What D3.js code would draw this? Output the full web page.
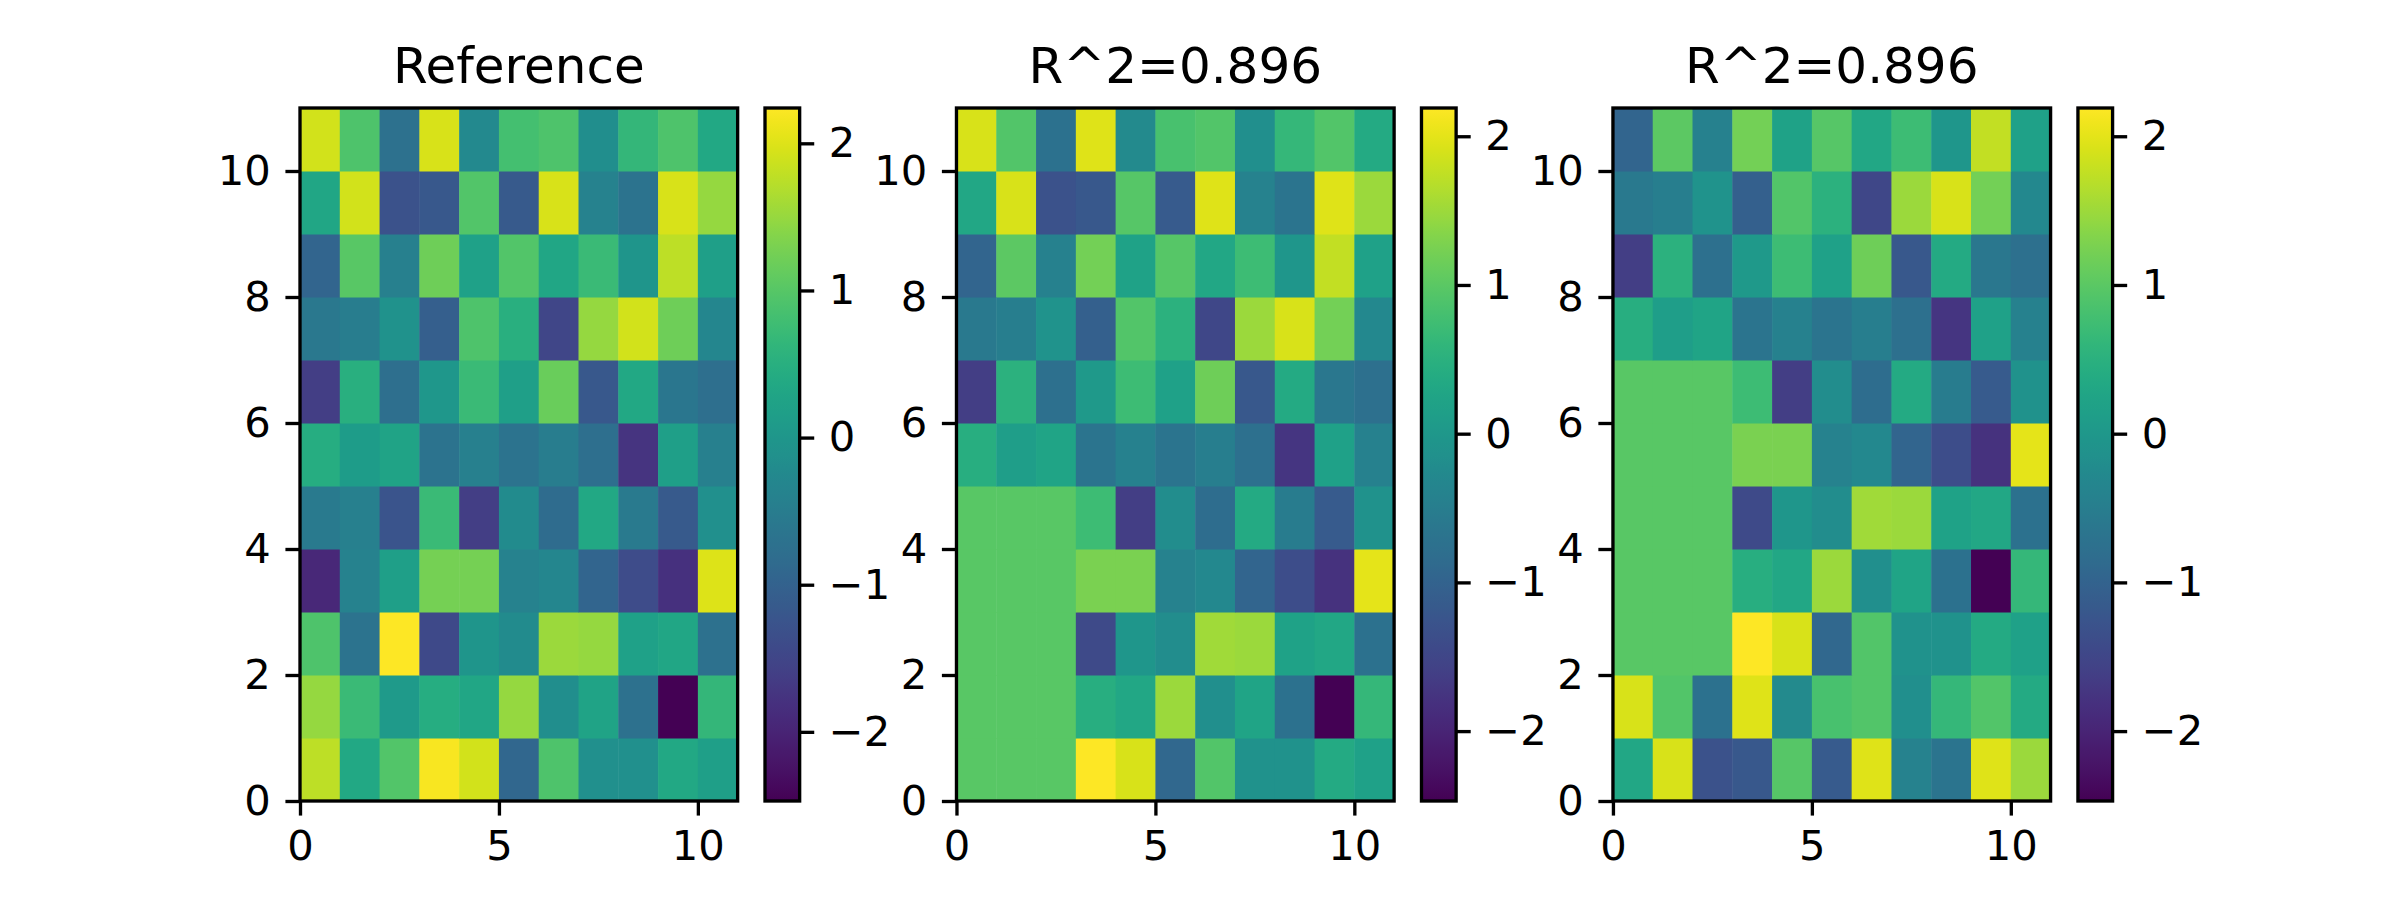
<!DOCTYPE html>
<html>
<head>
<meta charset="utf-8">
<script src="https://cdn.jsdelivr.net/npm/d3@7"></script>
<style>
  html, body { margin: 0; padding: 0; background: #fff; }
  svg { display: block; }
  text { font-family: "DejaVu Sans", sans-serif; fill: #000; }
</style>
</head>
<body>
<svg id="chart" width="2400" height="900"></svg>
<script>
// ---- Data (row 0 = bottom row, y from 0 to 1) ----
const titles = ["Reference", "R^2=0.896", "R^2=0.896"];
const xTicks = [0, 5, 10];
const yTicks = [0, 2, 4, 6, 8, 10];
const cbTicks = [-2, -1, 0, 1, 2];

const referenceGrid = [
  [1.77, 0.36, 0.97, 2.19, 1.91, -0.92, 0.92, -0.12, -0.12, 0.36, 0.17],
  [1.49, 0.73, 0.07, 0.45, 0.31, 1.49, -0.16, 0.26, -0.73, -2.47, 0.64],
  [0.92, -0.68, 2.24, -1.43, -0.02, -0.21, 1.53, 1.49, 0.21, 0.31, -0.73],
  [-1.95, -0.40, 0.17, 1.25, 1.25, -0.40, -0.30, -0.96, -1.39, -1.81, 2.00],
  [-0.54, -0.44, -1.25, 0.73, -1.62, -0.21, -0.82, 0.36, -0.54, -1.15, -0.12],
  [0.45, 0.12, 0.26, -0.68, -0.44, -0.68, -0.49, -0.77, -1.76, 0.17, -0.44],
  [-1.62, 0.50, -0.77, 0.03, 0.73, 0.17, 1.16, -1.20, 0.36, -0.63, -0.77],
  [-0.59, -0.49, -0.07, -1.06, 0.92, 0.50, -1.48, 1.49, 1.91, 1.20, -0.30],
  [-0.96, 1.02, -0.44, 1.20, 0.21, 0.97, 0.31, 0.73, -0.02, 1.77, 0.17],
  [0.31, 1.91, -1.29, -1.20, 0.97, -1.15, 1.96, -0.40, -0.68, 1.96, 1.49],
  [1.91, 0.92, -0.73, 1.96, -0.26, 0.83, 0.92, -0.16, 0.64, 0.92, 0.36]
];

const predGrid1 = [
  [0.98, 0.98, 0.98, 2.19, 1.91, -0.92, 0.92, -0.12, -0.12, 0.36, 0.17],
  [0.98, 0.98, 0.98, 0.45, 0.31, 1.49, -0.16, 0.26, -0.73, -2.47, 0.64],
  [0.98, 0.98, 0.98, -1.43, -0.02, -0.21, 1.53, 1.49, 0.21, 0.31, -0.73],
  [0.98, 0.98, 0.98, 1.25, 1.25, -0.40, -0.30, -0.96, -1.39, -1.81, 2.00],
  [0.98, 0.98, 0.98, 0.73, -1.62, -0.21, -0.82, 0.36, -0.54, -1.15, -0.12],
  [0.45, 0.12, 0.26, -0.68, -0.44, -0.68, -0.49, -0.77, -1.76, 0.17, -0.44],
  [-1.62, 0.50, -0.77, 0.03, 0.73, 0.17, 1.16, -1.20, 0.36, -0.63, -0.77],
  [-0.59, -0.49, -0.07, -1.06, 0.92, 0.50, -1.48, 1.49, 1.91, 1.20, -0.30],
  [-0.96, 1.02, -0.44, 1.20, 0.21, 0.97, 0.31, 0.73, -0.02, 1.77, 0.17],
  [0.31, 1.91, -1.29, -1.20, 0.97, -1.15, 1.96, -0.40, -0.68, 1.96, 1.49],
  [1.91, 0.92, -0.73, 1.96, -0.26, 0.83, 0.92, -0.16, 0.64, 0.92, 0.36]
];

const predGrid2 = [
  [0.31, 1.91, -1.29, -1.20, 0.97, -1.15, 1.96, -0.40, -0.68, 1.96, 1.49],
  [1.91, 0.92, -0.73, 1.96, -0.26, 0.83, 0.92, -0.16, 0.64, 0.92, 0.36],
  [0.98, 0.98, 0.98, 2.19, 1.91, -0.92, 0.92, -0.12, -0.12, 0.36, 0.17],
  [0.98, 0.98, 0.98, 0.45, 0.31, 1.49, -0.16, 0.26, -0.73, -2.47, 0.64],
  [0.98, 0.98, 0.98, -1.43, -0.02, -0.21, 1.53, 1.49, 0.21, 0.31, -0.73],
  [0.98, 0.98, 0.98, 1.25, 1.25, -0.40, -0.30, -0.96, -1.39, -1.81, 2.00],
  [0.98, 0.98, 0.98, 0.73, -1.62, -0.21, -0.82, 0.36, -0.54, -1.15, -0.12],
  [0.45, 0.12, 0.26, -0.68, -0.44, -0.68, -0.49, -0.77, -1.76, 0.17, -0.44],
  [-1.62, 0.50, -0.77, 0.03, 0.73, 0.17, 1.16, -1.20, 0.36, -0.63, -0.77],
  [-0.59, -0.49, -0.07, -1.06, 0.92, 0.50, -1.48, 1.49, 1.91, 1.20, -0.30],
  [-0.96, 1.02, -0.44, 1.20, 0.21, 0.97, 0.31, 0.73, -0.02, 1.77, 0.17]
];

const grids = [referenceGrid, predGrid1, predGrid2];

// ---- Layout (matplotlib-like, 8x3in @300dpi) ----
const pt = 300 / 72;
const figL = 300, figR = 2160, axTop = 108, axBot = 801;
const slotW = (figR - figL) / (3 + 2 * 0.2);
const gap = 0.2 * slotW;
const tickLen = 3.5 * pt, tickPad = 3.5 * pt, lw = 0.8 * pt;
const tickFont = 10 * pt, titleFont = 12 * pt;
const fmt = d => (d < 0 ? "\u2212" : "") + Math.abs(d);

const svg = d3.select("#chart");
const defs = svg.append("defs");

grids.forEach((grid, i) => {
  const slotX = figL + i * (slotW + gap);
  const x = d3.scaleLinear().domain([0, 11]).range([slotX, slotX + 0.8 * slotW]);
  const y = d3.scaleLinear().domain([0, 11]).range([axBot, axTop]);
  const flat = grid.flat();
  const ext = d3.extent(flat);
  const color = d3.scaleSequential(d3.interpolateViridis).domain(ext);

  const g = svg.append("g");
  // cells
  const cells = [];
  grid.forEach((row, r) => row.forEach((v, c) => cells.push({ r, c, v })));
  g.append("g").selectAll("rect").data(cells).join("rect")
    .attr("x", d => x(d.c))
    .attr("y", d => y(d.r + 1))
    .attr("width", d => x(d.c + 1) - x(d.c) + 0.5)
    .attr("height", d => y(d.r) - y(d.r + 1) + 0.5)
    .attr("fill", d => color(d.v));

  // axes
  const xa = g.append("g").attr("transform", `translate(0,${axBot})`)
    .call(d3.axisBottom(x).tickValues(xTicks).tickSize(tickLen).tickPadding(tickPad).tickFormat(fmt));
  const ya = g.append("g").attr("transform", `translate(${x(0)},0)`)
    .call(d3.axisLeft(y).tickValues(yTicks).tickSize(tickLen).tickPadding(tickPad).tickFormat(fmt));
  [xa, ya].forEach(a => {
    a.select(".domain").remove();
    a.selectAll("line").attr("stroke", "#000").attr("stroke-width", lw);
    a.selectAll("text").style("font-size", tickFont + "px").style("font-family", "DejaVu Sans").attr("fill", "#000");
  });
  // spines
  g.append("rect").attr("x", x(0)).attr("y", y(11))
    .attr("width", x(11) - x(0)).attr("height", y(0) - y(11))
    .attr("fill", "none").attr("stroke", "#000").attr("stroke-width", lw);

  // title
  g.append("text").attr("x", (x(0) + x(11)) / 2).attr("y", axTop - 6 * pt)
    .attr("text-anchor", "middle").style("font-size", titleFont + "px").text(titles[i]);

  // colorbar
  const cbX = slotX + 0.85 * slotW;
  const cbW = (axBot - axTop) / 20;
  const cy = d3.scaleLinear().domain(ext).range([axBot, axTop]);
  const gid = "grad" + i;
  const grad = defs.append("linearGradient").attr("id", gid)
    .attr("x1", 0).attr("y1", 1).attr("x2", 0).attr("y2", 0);
  d3.range(0, 1.0001, 0.02).forEach(t => {
    grad.append("stop").attr("offset", t).attr("stop-color", d3.interpolateViridis(t));
  });
  g.append("rect").attr("x", cbX).attr("y", axTop).attr("width", cbW).attr("height", axBot - axTop)
    .attr("fill", `url(#${gid})`);
  const ca = g.append("g").attr("transform", `translate(${cbX + cbW},0)`)
    .call(d3.axisRight(cy).tickValues(cbTicks).tickSize(tickLen).tickPadding(tickPad).tickFormat(fmt));
  ca.select(".domain").remove();
  ca.selectAll("line").attr("stroke", "#000").attr("stroke-width", lw);
  ca.selectAll("text").style("font-size", tickFont + "px").style("font-family", "DejaVu Sans").attr("fill", "#000");
  g.append("rect").attr("x", cbX).attr("y", axTop).attr("width", cbW).attr("height", axBot - axTop)
    .attr("fill", "none").attr("stroke", "#000").attr("stroke-width", lw);
});
</script>
</body>
</html>
